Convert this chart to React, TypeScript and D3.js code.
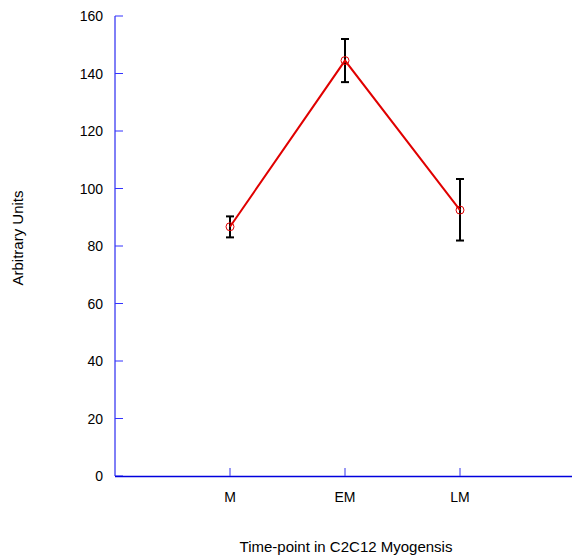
import React from "react";
import * as d3 from "d3";

const categories = ["M", "EM", "LM"];
const values = [86.7, 144.5, 92.5];
const errLow = [83.0, 137.0, 81.9];
const errHigh = [90.3, 152.0, 103.3];
const yTicks = [0, 20, 40, 60, 80, 100, 120, 140, 160];

export default function App() {
  const W = 572, H = 557;
  const x = d3.scaleLinear().domain([0, 4]).range([115, 575]);
  const y = d3.scaleLinear().domain([0, 160]).range([476, 16]);
  const line = d3.line<number>().x((_, i) => x(i + 1)).y((d) => y(d));
  const font = "Liberation Sans, Arial, sans-serif";
  return (
    <svg width={W} height={H} style={{ position: "absolute", left: 0, top: 0 }} fontFamily={font}>
      <rect width={W} height={H} fill="white" />
      {/* y axis */}
      <line x1={115} x2={115} y1={y(160)} y2={y(0)} stroke="#0000ee" strokeWidth={1} />
      {yTicks.map((t) => (
        <g key={t}>
          <line x1={115} x2={123} y1={y(t)} y2={y(t)} stroke="#3333ff" strokeWidth={1} />
          <text x={103} y={y(t) + 5} textAnchor="end" fontSize={14} fill="#000">{t}</text>
        </g>
      ))}
      {/* x axis */}
      <line x1={115} x2={575} y1={y(0) + 0.5} y2={y(0) + 0.5} stroke="#0000dd" strokeWidth={1.5} />
      {categories.map((c, i) => (
        <g key={c}>
          <line x1={x(i + 1)} x2={x(i + 1)} y1={y(0)} y2={y(0) - 8} stroke="#5555ee" strokeWidth={1.2} />
          <text x={x(i + 1)} y={502} textAnchor="middle" fontSize={14} fill="#000">{c}</text>
        </g>
      ))}
      {/* error bars */}
      {categories.map((c, i) => (
        <g key={"e" + c} stroke="#000" strokeWidth={2}>
          <line x1={x(i + 1)} x2={x(i + 1)} y1={y(errLow[i])} y2={y(errHigh[i])} />
          <line x1={x(i + 1) - 4} x2={x(i + 1) + 4} y1={y(errLow[i])} y2={y(errLow[i])} />
          <line x1={x(i + 1) - 4} x2={x(i + 1) + 4} y1={y(errHigh[i])} y2={y(errHigh[i])} />
        </g>
      ))}
      <path d={line(values) || ""} fill="none" stroke="#e00000" strokeWidth={2} />
      {values.map((v, i) => (
        <circle key={"p" + i} cx={x(i + 1)} cy={y(v)} r={4} fill="none" stroke="#e00000" strokeWidth={1} />
      ))}
      <text x={346} y={552} textAnchor="middle" fontSize={15} fill="#000">Time-point in C2C12 Myogensis</text>
      <text transform={`translate(23,${238}) rotate(-90)`} textAnchor="middle" fontSize={15} fill="#000">Arbitrary Units</text>
    </svg>
  );
}
